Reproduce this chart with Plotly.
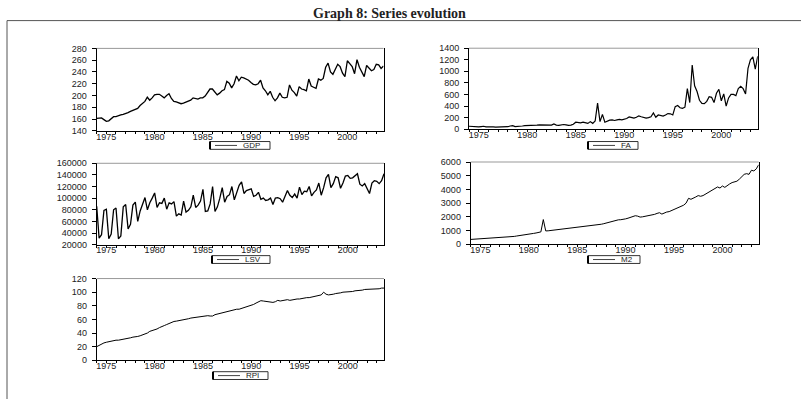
import plotly.graph_objects as go

# ---------------- data (quarterly, 1974Q1 - 2003Q4) ----------------
start_year = 1974
n_quarters = 120
quarters = [start_year + i / 4 for i in range(n_quarters)]

gdp = [161, 162, 162, 159, 156, 157, 160, 164, 164, 166, 167, 168,
       169, 171, 173, 175, 176, 178, 183, 187, 190, 197, 192, 196,
       201, 202, 202, 199, 196, 200, 203, 195, 190, 189, 187, 186,
       187, 189, 190, 192, 196, 195, 194, 196, 196, 199, 205, 211,
       211, 205, 201, 204, 208, 210, 224, 221, 213, 220, 233, 225,
       231, 230, 228, 226, 222, 219, 218, 220, 226, 213, 208, 201,
       207, 197, 191, 196, 204, 197, 196, 197, 218, 209, 205, 199,
       215, 211, 210, 208, 228, 216, 214, 212, 228, 226, 229, 248,
       255, 240, 236, 246, 253, 249, 238, 232, 259, 254, 249, 237,
       261, 248, 239, 232, 251, 246, 242, 244, 253, 252, 246, 250]

fa = [50, 45, 40, 45, 40, 45, 50, 40, 35, 40, 38, 35,
      35, 40, 38, 40, 42, 55, 60, 45, 45, 50, 55, 60,
      60, 65, 65, 70, 70, 75, 75, 70, 72, 65, 70, 90,
      70, 65, 75, 80, 75, 65, 70, 85, 120, 115, 110, 120,
      110, 100, 130, 100, 140, 450, 130, 255, 120, 140, 155, 160,
      150, 160, 170, 160, 170, 185, 210, 205, 190, 205, 230, 215,
      200, 190, 200, 215, 280, 205, 245, 230, 225, 245, 270, 265,
      245, 390, 410, 370, 360, 380, 700, 460, 1110, 750, 650, 500,
      445, 440, 480, 560, 550, 460, 620, 690, 490, 610, 400, 540,
      600, 600, 580, 700, 740, 700, 610, 1050, 1200, 1250, 1040, 1260]

lsv = [86000, 31000, 37000, 79000, 81000, 30000, 38000, 80000,
       83000, 30000, 35000, 85000, 89000, 47000, 55000, 88000,
       93000, 60000, 78000, 90000, 101000, 80000, 92000, 100000,
       109000, 84000, 92000, 91000, 100000, 81000, 92000, 90000,
       94000, 69000, 73000, 71000, 95000, 76000, 79000, 85000,
       105000, 84000, 88000, 95000, 115000, 77000, 78000, 90000,
       120000, 77000, 85000, 100000, 118000, 93000, 103000, 106000,
       120000, 97000, 110000, 122000, 128000, 108000, 113000, 115000,
       116000, 103000, 105000, 110000, 98000, 100000, 96000, 97000,
       100000, 89000, 100000, 101000, 99000, 93000, 104000, 113000,
       105000, 101000, 107000, 100000, 119000, 106000, 112000, 111000,
       120000, 104000, 110000, 114000, 126000, 105000, 118000, 135000,
       141000, 118000, 125000, 137000, 135000, 117000, 126000, 138000,
       139000, 134000, 135000, 138000, 142000, 124000, 121000, 125000,
       115000, 108000, 126000, 130000, 129000, 125000, 130000, 142000]

m2 = [350, 360, 380, 400, 420, 425, 430, 440, 450, 455, 460, 470,
      480, 490, 500, 505, 510, 540, 570, 600, 620, 650, 680, 700,
      730, 760, 790, 820, 850, 900, 1800, 970, 980, 1000, 1020, 1040,
      1060, 1080, 1100, 1120, 1130, 1150, 1170, 1190, 1210, 1230, 1250, 1270,
      1300, 1330, 1340, 1380, 1400, 1430, 1460, 1500, 1550, 1600, 1650, 1700,
      1750, 1780, 1790, 1800, 1850, 1900, 1950, 2050, 2080, 2050, 1980, 2000,
      2030, 2060, 2100, 2130, 2180, 2250, 2300, 2200, 2280, 2350, 2380, 2450,
      2520, 2600, 2700, 2750, 2850, 3000, 3350, 3280, 3350, 3450, 3550, 3500,
      3550, 3650, 3800, 3900, 3980, 4080, 4180, 4100, 4250, 4150, 4300, 4400,
      4500, 4550, 4600, 4750, 4900, 5100, 5150, 5100, 5400, 5350, 5500, 5800]

rpi = [20, 22, 24, 25.5, 26.5, 27.5, 28.5, 29.5, 29.5, 29.5, 30, 30.5,
       31, 32, 33, 34, 34, 35, 36, 37, 38, 40, 42.5, 43.5,
       45, 46, 48, 50, 51, 52.5, 54, 56, 57, 57.5, 58, 58.5,
       59.5, 60, 61, 62, 62.5, 63.5, 64, 64.5, 64.5, 65, 65.5, 65,
       65, 67, 68, 68, 69, 70, 71.5, 72.5, 73.5, 75, 75, 75,
       76, 77, 78.5, 80, 81, 82, 84, 86, 87.5, 87, 86.5, 87,
       86, 85, 86, 88, 87, 88, 88, 89, 88, 89, 89.5, 90,
       90, 91, 91, 92, 92, 93, 94, 94, 95, 96, 100, 97,
       96, 96, 97, 98, 98, 99, 100, 100, 100, 101, 101, 102,
       102, 103, 103, 104, 104, 104, 104, 105, 105, 105, 106, 106]

year_labels = [1975, 1980, 1985, 1990, 1995, 2000]
title_text = "Graph 8: Series evolution"

# ---------------- layout helpers ----------------
W, H = 801, 404
def px(x):
    return x / W
def py(y):
    return 1 - y / H

panels = [
    # name, values, x-domain px, y-domain px (top, bottom), y range, dtick, legend box px, line width
    ("GDP", gdp, (96.7, 383.5), (44.5, 129.0), (140, 280), 20, (210, 140, 270, 148), 1.3),
    ("FA", fa, (469.0, 757.7), (44.3, 127.3), (0, 1400), 200, (588, 140, 638, 148), 1.2),
    ("LSV", lsv, (96.7, 384.0), (162.3, 245.7), (20000, 160000), 20000, (212, 257, 270, 265), 1.3),
    ("M2", m2, (470.7, 758.7), (161.0, 245.3), (0, 6000), 1000, (588, 257, 640, 265), 1.0),
    ("RPI", rpi, (96.7, 384.0), (280.5, 364.3), (0, 120), 20, (213, 376, 268, 384), 1.0),
]

tick_font = dict(family="Liberation Sans, Arial, sans-serif", size=9, color="#222")

fig = go.Figure()
shapes = []
annotations = []
layout = dict(
    width=W, height=H,
    margin=dict(l=0, r=0, t=0, b=0),
    paper_bgcolor="white", plot_bgcolor="white",
    showlegend=False,
)

for k, (name, vals, (x0, x1), (ytop, ybot), yr, dt, lg, lw) in enumerate(panels):
    sfx = "" if k == 0 else str(k + 1)
    xa, ya = "x" + sfx, "y" + sfx
    fig.add_trace(go.Scatter(x=quarters, y=vals, mode="lines",
                             line=dict(color="black", width=lw),
                             xaxis=xa, yaxis=ya, name=name,
                             hoverinfo="skip"))
    layout["xaxis" + sfx] = dict(
        domain=[px(x0), px(x1)], anchor=ya,
        range=[start_year, start_year + (n_quarters - 1) / 4],
        tickvals=year_labels, ticktext=[str(v) for v in year_labels],
        ticks="outside", ticklen=2, tickcolor="black", tickwidth=1,
        ticklabelstandoff=-5,
        minor=dict(dtick=1, tick0=start_year, ticks="outside", ticklen=2,
                   tickcolor="black", showgrid=False),
        showline=True, linecolor="black", linewidth=1, mirror=False,
        showgrid=False, zeroline=False, tickfont=tick_font,
        fixedrange=True,
    )
    layout["yaxis" + sfx] = dict(
        domain=[py(ybot), py(ytop)], anchor=xa,
        range=list(yr), dtick=dt, tick0=yr[0], tickformat="d",
        ticks="outside", ticklen=4, tickcolor="black", tickwidth=1,
        ticklabelstandoff=3,
        showline=True, linecolor="black", linewidth=1, mirror=True,
        showgrid=False, zeroline=False, tickfont=tick_font,
        fixedrange=True,
    )
    # grey top border of plot frame
    shapes.append(dict(type="line", xref=xa + " domain", yref=ya + " domain",
                       x0=0, x1=1, y0=1, y1=1,
                       line=dict(color="#999", width=1)))
    # legend box
    bx0, by0, bx1, by1 = lg
    shapes.append(dict(type="rect", xref="paper", yref="paper",
                       x0=px(bx0), x1=px(bx1), y0=py(by1), y1=py(by0),
                       line=dict(color="#333", width=1), fillcolor="white"))
    shapes.append(dict(type="line", xref="paper", yref="paper",
                       x0=px(bx0), x1=px(bx0), y0=py(by1), y1=py(by0),
                       line=dict(color="black", width=2)))
    ly = (by0 + by1) / 2
    shapes.append(dict(type="line", xref="paper", yref="paper",
                       x0=px(bx0 + 5), x1=px(bx0 + 27), y0=py(ly), y1=py(ly),
                       line=dict(color="#444", width=1)))
    annotations.append(dict(text=name, xref="paper", yref="paper",
                            x=px(bx0 + 31), y=py(ly), xanchor="left", yanchor="middle",
                            showarrow=False,
                            font=dict(family="Liberation Sans, Arial, sans-serif", size=8, color="#222")))

# outer frame (top + left)
shapes.append(dict(type="line", xref="paper", yref="paper",
                   x0=px(7), x1=1, y0=py(16), y1=py(16),
                   line=dict(color="#555", width=1)))
shapes.append(dict(type="line", xref="paper", yref="paper",
                   x0=px(7), x1=px(7), y0=0, y1=py(16),
                   line=dict(color="#555", width=1)))

annotations.append(dict(text="<b>" + title_text + "</b>", xref="paper", yref="paper",
                        x=px(389), y=py(9), xanchor="center", yanchor="middle",
                        showarrow=False,
                        font=dict(family="Liberation Serif, Times New Roman, serif", size=14, color="#222")))

layout["shapes"] = shapes
layout["annotations"] = annotations
fig.update_layout(**layout)
fig.write_html("out.html")
